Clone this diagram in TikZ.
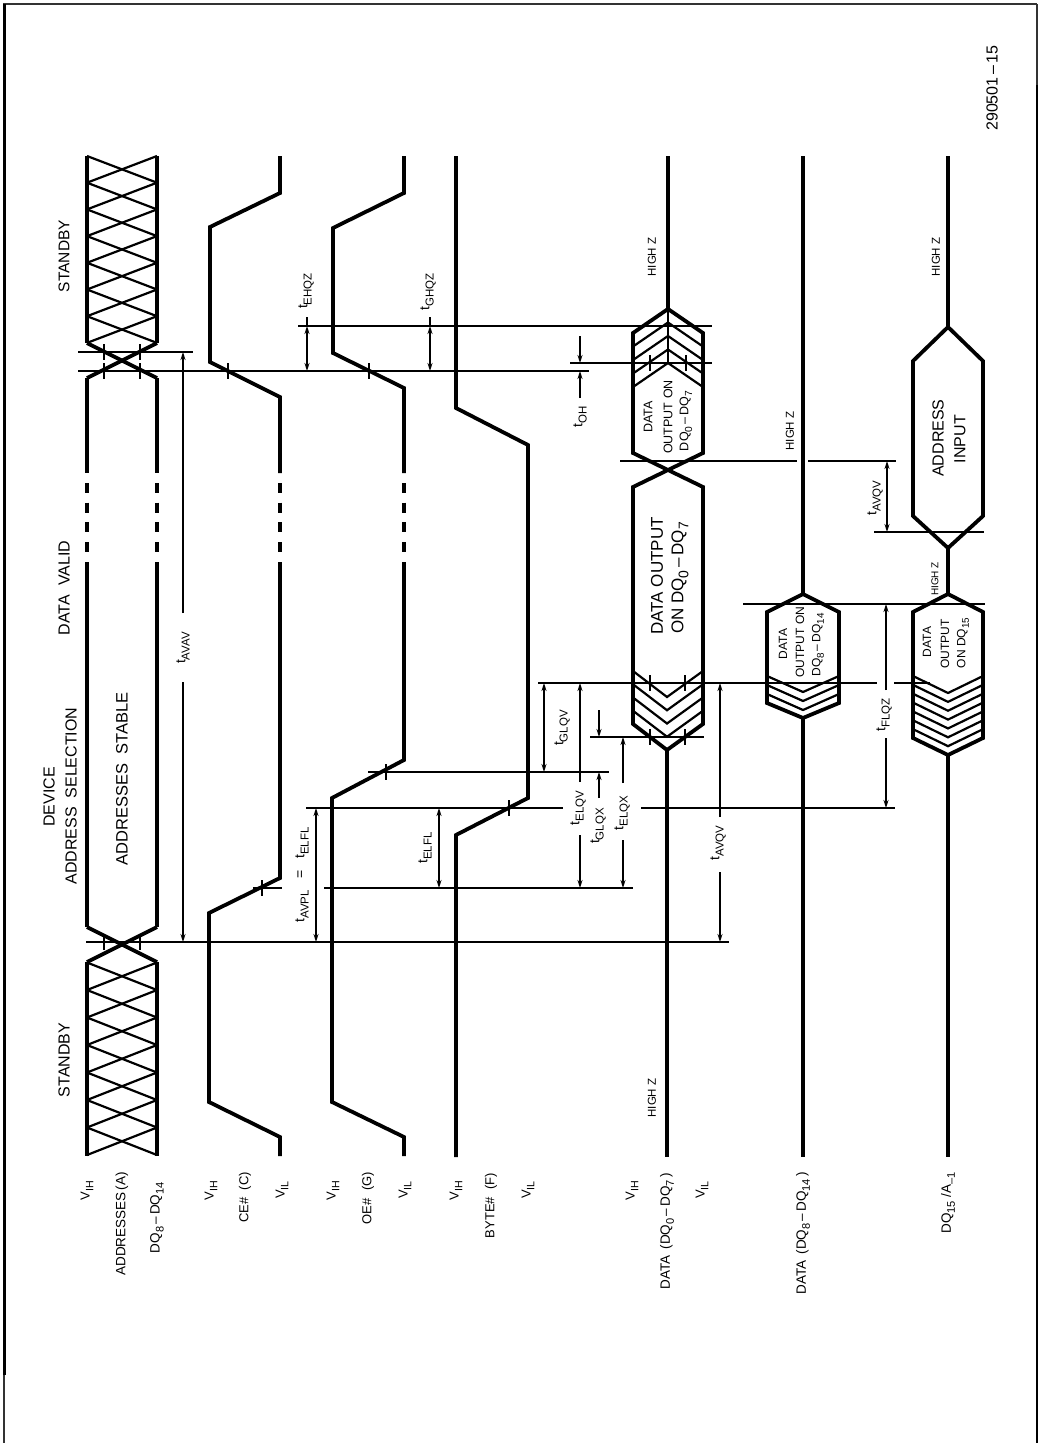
\documentclass[tikz,border=0pt]{standalone}
\usepackage{fontspec}
\usepackage{graphicx}
\setmainfont{Liberation Sans}
\usetikzlibrary{arrows.meta}
\newcommand\lo[1]{\raisebox{-.3em}{\scalebox{.82}{#1}}}
\newcommand\tmg[1]{t\lo{#1}}
\newcommand\rl[4]{\node[rotate=90,inner sep=0pt,font=\fontsize{#3}{#3}\selectfont] at (#1,#2) {#4};}
\newcommand\rlt[4]{\node[rotate=90,anchor=east,inner sep=0pt,font=\fontsize{#3}{#3}\selectfont] at (#1,#2) {#4};}
\newcommand\tk[2]{\draw[rule] (#1,#2-8) -- (#1,#2+8);}
\tikzset{
  sig/.style={line width=3.8pt,line join=miter,line cap=butt},
  hatch/.style={line width=2.2pt,line join=miter},
  rule/.style={line width=1.3pt},
  dim/.style={line width=1.3pt},
  up/.style={dim,-{Stealth[length=8pt,width=5pt]}},
  both/.style={dim,{Stealth[length=8pt,width=5pt]}-{Stealth[length=8pt,width=5pt]}}
}
\begin{document}
\begin{tikzpicture}[x=1pt,y=-1pt]
\useasboundingbox (0,0) rectangle (1043,1443);
% frame
\draw[line width=1.8pt,black!80] (3,4) -- (1037,4);
\draw[line width=3pt] (4,4) -- (4,1375);
\draw[line width=1.3pt,black!80] (4,1375) -- (4,1443);
\draw[line width=1.3pt,black!80] (1037,4) -- (1037,85);
\draw[line width=2pt] (1037,85) -- (1037,1443);

% ---- address bus
\foreach \i in {0,...,6}{
  \draw[hatch] (87,{156+26.7*\i}) -- (157,{182.7+26.7*\i});
  \draw[hatch] (157,{156+26.7*\i}) -- (87,{182.7+26.7*\i});
  \draw[hatch] (87,{962.5+27.5*\i}) -- (157,{990+27.5*\i});
  \draw[hatch] (157,{962.5+27.5*\i}) -- (87,{990+27.5*\i});
}
\foreach \x in {87,157}{
  \draw[sig] (\x,156) -- (\x,343);
  \draw[sig] (\x,378) -- (\x,473);
  \draw[sig] (\x,562) -- (\x,927);
  \draw[sig] (\x,962) -- (\x,1156);
}
\draw[sig] (87,343) -- (157,378);
\draw[sig] (157,343) -- (87,378);
\draw[sig] (87,927) -- (157,962);
\draw[sig] (157,927) -- (87,962);
% dashes of the valid period
\foreach \x in {87,157,280,404}{
  \foreach \y in {483,502.5,522,542}{
    \draw[sig] (\x,\y) -- (\x,\y+10);
  }
}
% ---- CE#
\draw[sig] (280,1156) -- (280,1137) -- (209,1102) -- (209,913) -- (280,878) -- (280,562);
\draw[sig] (280,473) -- (280,397) -- (210,362) -- (210,227) -- (280,193) -- (280,156);
% ---- OE#
\draw[sig] (404,1156) -- (404,1137) -- (332,1102) -- (332,798) -- (404,760) -- (404,562);
\draw[sig] (404,473) -- (404,388) -- (333,353) -- (333,228) -- (404,193) -- (404,156);
% ---- BYTE#
\draw[sig] (456,1157) -- (456,835) -- (528,798) -- (528,445) -- (456,408) -- (456,156);

% ---- DATA DQ0-DQ7
\draw[line width=3.4pt] (668,156) -- (668,309);
\draw[sig] (668,309) -- (633,333) -- (633,453) -- (703,487) -- (703,724) -- (667,750) -- (633,724) -- (633,487) -- (703,453) -- (703,333) -- cycle;
\draw[sig] (667,750) -- (667,1157);
\draw[hatch] (668,309) -- (668,363);
\foreach \i in {1,...,4}{
  \draw[hatch] (633,{333+13.5*\i}) -- (668,{309+13.5*\i}) -- (703,{333+13.5*\i});
}
\foreach \i in {0,...,3}{
  \draw[hatch] (633,{671+13.25*\i}) -- (667,{697+13.25*\i}) -- (703,{671+13.25*\i});
}
% ---- DATA DQ8-DQ14
\draw[sig] (803,156) -- (803,594);
\draw[sig] (803,594) -- (767,612) -- (767,703) -- (803,718) -- (839,703) -- (839,612) -- cycle;
\draw[sig] (803,718) -- (803,1157);
\foreach \i in {0,...,2}{
  \draw[hatch] (767,{676+9*\i}) -- (803,{692+9*\i}) -- (839,{676+9*\i});
}
% ---- DQ15 / A-1
\draw[sig] (948,156) -- (948,327);
\draw[sig] (948,327) -- (913,361) -- (913,516) -- (948,548) -- (983,516) -- (983,361) -- cycle;
\draw[sig] (948,548) -- (948,594);
\draw[sig] (948,594) -- (913,612) -- (913,738) -- (948,755) -- (983,738) -- (983,612) -- cycle;
\draw[sig] (948,755) -- (948,1157);
\foreach \i in {0,...,6}{
  \draw[hatch] (913,{676+8.86*\i}) -- (948,{693+8.86*\i}) -- (983,{676+8.86*\i});
}

% ---- horizontal reference lines
\draw[rule] (298,326) -- (712,326);
\draw[rule] (78,352) -- (193,352);
\draw[rule] (570,363) -- (712,363);
\draw[rule] (78,371) -- (589,371);
\draw[rule] (620,461) -- (797,461);
\draw[rule] (808,461) -- (896,461);
\draw[rule] (874,532) -- (984,532);
\draw[line width=2.2pt] (743,604) -- (985,604);
\draw[rule] (538,683) -- (877,683);
\draw[rule] (894,683) -- (930,683);
\draw[rule] (590,737) -- (704,737);
\draw[rule] (368,772) -- (609,772);
\draw[rule] (306,808) -- (563,808);
\draw[rule] (641,808) -- (895,808);
\draw[rule] (324,888) -- (633,888);
\draw[rule] (253,888) -- (282,888);
\draw[rule] (86,942) -- (729,942);

% ---- ticks
\tk{104}{352}\tk{140}{352}\tk{104}{371}\tk{140}{371}
\tk{104}{942}\tk{140}{942}
\tk{228}{371}\tk{369}{371}
\tk{650}{363}\tk{686}{363}
\tk{650}{683}\tk{685}{683}\tk{650}{737}\tk{685}{737}
\tk{262}{888}\tk{386}{772}\tk{509}{808}

% ---- dimension arrows
\draw[up] (183,613) -- (183,352);
\draw[up] (183,682) -- (183,942);
\draw[both] (307,371) -- (307,326);
\draw[dim] (307,326) -- (307,317);
\draw[both] (430,371) -- (430,326);
\draw[dim] (430,326) -- (430,317);
\draw[up] (580,336) -- (580,363);
\draw[up] (580,398) -- (580,371);
\draw[both] (887,461) -- (887,532);
\draw[both] (544,683) -- (544,772);
\draw[up] (580,782) -- (580,683);
\draw[up] (580,835) -- (580,888);
\draw[up] (599,710) -- (599,737);
\draw[up] (599,798) -- (599,772);
\draw[up] (623,783) -- (623,737);
\draw[up] (623,840) -- (623,888);
\draw[up] (720,817) -- (720,683);
\draw[up] (720,872) -- (720,942);
\draw[up] (886,690) -- (886,604);
\draw[up] (886,738) -- (886,808);
\draw[both] (439,808) -- (439,888);
\draw[both] (316,808) -- (316,942);

% ---- timing labels
\rl{183}{648}{14}{\tmg{AVAV}}
\rl{306}{291}{14}{\tmg{EHQZ}}
\rl{428}{292}{14}{\tmg{GHQZ}}
\rl{580}{417}{14}{\tmg{OH}}
\rl{875}{498}{14}{\tmg{AVQV}}
\rl{562}{728}{14}{\tmg{GLQV}}
\rl{578}{808}{14}{\tmg{ELQV}}
\rl{598}{826}{14}{\tmg{GLQX}}
\rl{622}{813}{14}{\tmg{ELQX}}
\rl{718}{843}{14}{\tmg{AVQV}}
\rl{884}{715}{14}{\tmg{FLQZ}}
\rl{425}{848}{14}{\tmg{ELFL}}
\rl{302}{875}{14}{\tmg{AVPL} \ \ = \ \ \tmg{ELFL}}

% ---- header labels
\rl{64}{256}{15.5}{STANDBY}
\rl{64}{1060}{16}{STANDBY}
\rl{64}{588}{16}{DATA\ \ VALID}
\rl{49}{797}{16}{DEVICE}
\rl{71}{796}{16}{ADDRESS\ \ SELECTION}
\rl{122}{779}{16.5}{ADDRESSES\ \ STABLE}
\rl{992}{88}{16}{290501\,--\,15}

% ---- bus texts
\rl{657}{576}{17}{DATA\ OUTPUT}
\rl{680}{578}{17}{ON DQ\lo{0}\,--\,DQ\lo{7}}
\rl{938}{438}{16}{ADDRESS}
\rl{960}{439}{16}{INPUT}
\rl{648}{417}{12.5}{DATA}
\rl{668}{417}{12.5}{OUTPUT ON}
\rl{686}{421}{12.5}{DQ\lo{0}\,--\,DQ\lo{7}}
\rl{783}{644}{12}{DATA}
\rl{800}{642}{12}{OUTPUT ON}
\rl{818}{645}{12}{DQ\lo{8}\,--\,DQ\lo{14}}
\rl{927}{642}{12}{DATA}
\rl{945}{644}{12}{OUTPUT}
\rl{963}{643}{12}{ON DQ\lo{15}}
\rl{652}{257}{11.5}{HIGH\ Z}
\rl{652}{1098}{11.5}{HIGH\ Z}
\rl{936}{257}{11.5}{HIGH\ Z}
\rl{790}{431}{11.5}{HIGH\ Z}
\rl{935}{579}{10}{HIGH\ Z}

% ---- left signal names
\rlt{87}{1181}{13}{V\lo{IH}}
\rlt{122}{1172}{13.5}{ADDRESSES\,(A)}
\rlt{157}{1182}{13.5}{DQ\lo{8}\,--\,DQ\lo{14}}
\rlt{211}{1181}{13}{V\lo{IH}}
\rlt{245}{1172}{13}{CE\# \ (C)}
\rlt{282}{1181}{13}{V\lo{IL}}
\rlt{333}{1181}{13}{V\lo{IH}}
\rlt{368}{1172}{13}{OE\# \ (G)}
\rlt{405}{1181}{13}{V\lo{IL}}
\rlt{456}{1181}{13}{V\lo{IH}}
\rlt{491}{1173}{13}{BYTE\# \ (F)}
\rlt{528}{1181}{13}{V\lo{IL}}
\rlt{632}{1181}{13}{V\lo{IH}}
\rlt{667}{1173}{13.5}{DATA \,(DQ\lo{0}\,--\,DQ\lo{7}\,)}
\rlt{702}{1181}{13}{V\lo{IL}}
\rlt{803}{1172}{13.5}{DATA \,(DQ\lo{8}\,--\,DQ\lo{14}\,)}
\rlt{948}{1172}{13.5}{DQ\lo{15} /A\lo{--1}}
\end{tikzpicture}
\end{document}
